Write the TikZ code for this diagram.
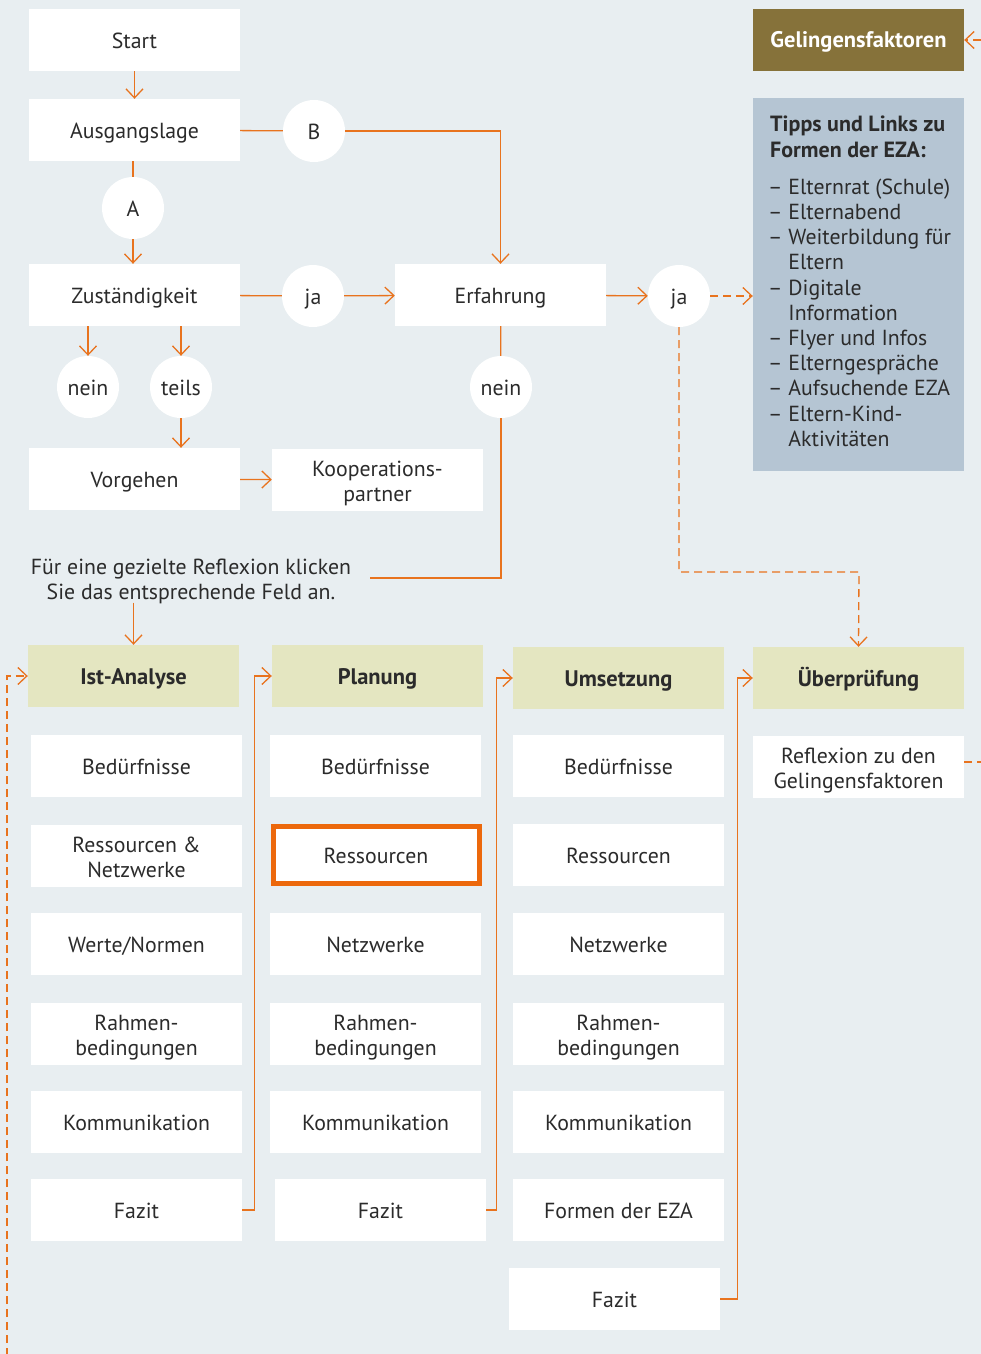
\documentclass[tikz,border=0pt]{standalone}
\usepackage{fontspec}
\setmainfont{PT Sans}
\usetikzlibrary{arrows.meta,backgrounds,calc}
\definecolor{bgc}{HTML}{E8EEF1}
\definecolor{hdr}{HTML}{E4E6C1}
\definecolor{gelc}{HTML}{86723A}
\definecolor{tipc}{HTML}{B5C5D3}
\definecolor{org}{HTML}{E8731E}
\definecolor{orgk}{HTML}{EC680C}
\definecolor{txt}{HTML}{2B2B2B}
\newcommand\fsz{\fontsize{21.8}{25}\selectfont}
\begin{document}
\begin{tikzpicture}[x=1pt,y=-1pt,
  box/.style={fill=white, minimum width=211pt, minimum height=62pt, inner sep=0pt, align=center, text=txt, font=\fsz, text height=17pt, text depth=0pt},
  two/.style={text height=42pt, text depth=0pt},
  hbox/.style={box, fill=hdr, font=\fontsize{22.5}{25}\selectfont\bfseries},
  circ/.style={circle, fill=white, minimum size=62pt, inner sep=0pt, text=txt, font=\fsz, text height=17pt, text depth=0pt},
  ln/.style={draw=org, line width=1.3pt},
  arr/.style={ln, -{Straight Barb[length=9pt,width=17pt,line width=1.3pt]}},
  dln/.style={ln, dash pattern=on 8pt off 5pt},
  darr/.style={arr, dash pattern=on 8pt off 5pt},
]
\useasboundingbox (0,0) rectangle (980,1354);
\fill[bgc] (-3,-3) rectangle (983,1357);

% ---------- top flow ----------
\node[box] (start) at (134.5,40) {Start};
\node[box] (ausg) at (134.5,130) {Ausgangslage};
\node[circ] (B) at (314,131) {B};
\node[circ] (A) at (133,208) {A};
\node[box] (zust) at (134.5,295) {Zuständigkeit};
\node[circ] (ja1) at (313,296) {ja};
\node[box] (erf) at (500.5,295) {Erfahrung};
\node[circ] (ja2) at (679,296) {ja};
\node[circ] (nein1) at (88,387) {nein};
\node[circ] (teils) at (181,387) {teils};
\node[circ] (nein2) at (501,387) {nein};
\node[box] (vorg) at (134.5,479) {Vorgehen};
\node[box, two] (koop) at (377.5,480) {Kooperations-\\partner};
\node[text=txt, font=\fsz, align=center, inner sep=0pt, text height=41pt, text depth=0pt] (hint) at (191,579)
  {Für eine gezielte Reflexion klicken\\Sie das entsprechende Feld an.};
\coordinate (hintr) at (370,578);

\node[fill=gelc, minimum width=211pt, minimum height=62pt, inner sep=0pt, text=white, font=\fontsize{22.5}{25}\selectfont\bfseries, text height=16pt, text depth=0pt] (gel) at (858.5,40) {Gelingensfaktoren};
\node[fill=tipc, minimum width=211pt, minimum height=373pt, inner sep=0pt] (tips) at (858.5,284.5) {};
\node[anchor=north west, inner sep=0pt, align=left, text=txt, font=\fontsize{22}{26}\selectfont\bfseries] (tipt) at (770,116)
  {Tipps und Links zu\\Formen der EZA:};
\node[anchor=north west, inner sep=0pt, align=left, text=txt, font=\fontsize{21.8}{25.2}\selectfont] (tipl) at (768,178.5)
  {– Elternrat (Schule)\\
   – Elternabend\\
   – Weiterbildung für\\
   \phantom{– }Eltern\\
   – Digitale\\
   \phantom{– }Information\\
   – Flyer und Infos\\
   – Elterngespräche\\
   – Aufsuchende EZA\\
   – Eltern-Kind-\\
   \phantom{– }Aktivitäten};

% ---------- columns ----------
\node[hbox] (ist) at (133.5,676) {Ist-Analyse};
\node[box] (i1) at (136.5,766) {Bedürfnisse};
\node[box, two] (i2) at (136.5,856) {Ressourcen \&\\Netzwerke};
\node[box] (i3) at (136.5,944) {Werte/Normen};
\node[box, two] (i4) at (136.5,1034) {Rahmen-\\bedingungen};
\node[box] (i5) at (136.5,1121.5) {Kommunikation};
\node[box] (i6) at (136.5,1210) {Fazit};

\node[hbox] (plan) at (377.5,676) {Planung};
\node[box] (p1) at (375.5,766) {Bedürfnisse};
\node[box, draw=orgk, line width=5pt, minimum width=206pt, minimum height=57pt] (p2) at (376,855) {Ressourcen};
\node[box] (p3) at (375.5,944) {Netzwerke};
\node[box, two] (p4) at (375.5,1034) {Rahmen-\\bedingungen};
\node[box] (p5) at (375.5,1121.5) {Kommunikation};
\node[box] (p6) at (380.5,1210) {Fazit};

\node[hbox] (ums) at (618.5,678) {Umsetzung};
\node[box] (u1) at (618.5,766) {Bedürfnisse};
\node[box] (u2) at (618.5,855) {Ressourcen};
\node[box] (u3) at (618.5,944) {Netzwerke};
\node[box, two] (u4) at (618.5,1034) {Rahmen-\\bedingungen};
\node[box] (u5) at (618.5,1121.5) {Kommunikation};
\node[box] (u6) at (618.5,1210) {Formen der EZA};
\node[box] (u7) at (614.5,1299) {Fazit};

\node[hbox] (ueber) at (858.5,678) {Überprüfung};
\node[box, two] (refl) at (858.5,767) {Reflexion zu den\\Gelingensfaktoren};

\coordinate (gelr) at (981,40);
\coordinate (reflr) at (981,762);
\coordinate (istb) at (7,1356);
\coordinate (uebb) at (859,1356);
\coordinate (jbend) at (859,572);

% ---------- connectors ----------
\begin{scope}[on background layer]
\draw[ln] (ist.south -| 134,0) -- (i6.north -| 134,0);
\draw[ln] (p6.north |- plan.south) -- (p6.north);
\draw[ln] (ums.south) -- (ums.south |- u7.north);
\draw[dln] (ueber.south) -- (uebb);
\end{scope}

\draw[arr] (start) -- (ausg);
\draw[ln] (ausg) -- (B);
\draw[arr] (B.east) -| (erf.north);
\draw[ln] (ausg.south -| A) -- (A);
\draw[arr] (A) -- (zust.north -| A);
\draw[ln] (zust) -- (ja1);
\draw[arr] (ja1) -- (erf);
\draw[arr] (erf) -- (ja2);
\draw[darr] (ja2) -- (tips.west |- ja2);
\draw[darr] (gelr) -- (gel.east);
\draw[arr] (zust.south -| nein1) -- (nein1);
\draw[arr] (zust.south -| teils) -- (teils);
\draw[arr] (teils) -- (vorg.north -| teils);
\draw[arr] (vorg) -- (koop);
\draw[ln] (erf) -- (nein2);
\draw[ln] (nein2.south) |- (hintr);
\draw[arr] ($(hint.south -| ist)+(0,3)$) -- (ist);
\draw[darr] (ja2.south) |- (jbend) -- (ueber.north);
\draw[darr] (istb) |- (ist.west);
\draw[arr] (i6.east) -- ++(12,0) |- (plan.west);
\draw[arr] (p6.east) -- ++(10,0) |- (ums.west);
\draw[arr] (u7.east) -- ++(17,0) |- (ueber.west);
\draw[dln] (refl.east |- reflr) -- (reflr);
\end{tikzpicture}
\end{document}
